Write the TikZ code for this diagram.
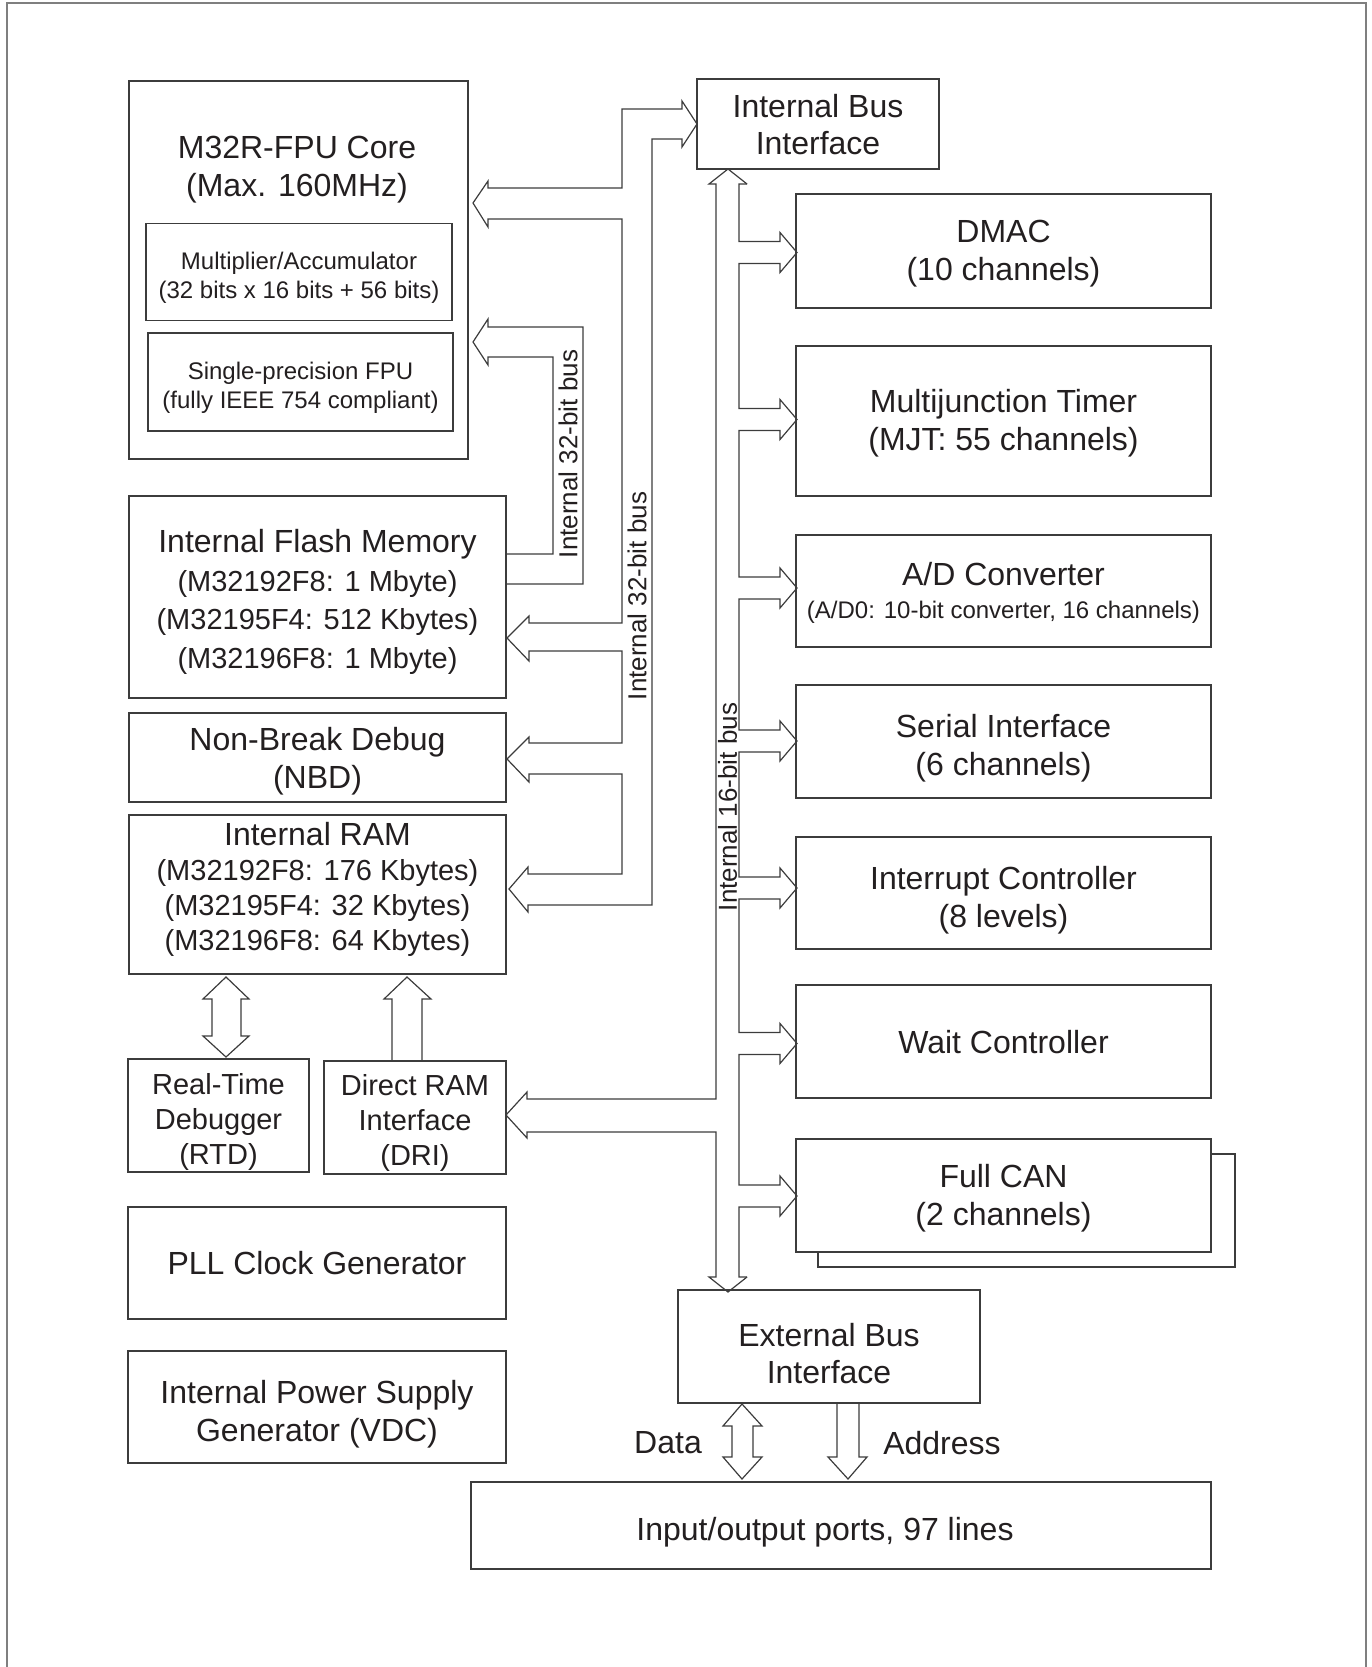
\documentclass[tikz,border=0pt]{standalone}
\usepackage{fontspec}
\setmainfont{Liberation Sans}
\usepackage{tikz}
\usetikzlibrary{positioning}

\definecolor{linec}{HTML}{3C3C3C}
\definecolor{framec}{HTML}{7F7F7F}
\definecolor{textc}{HTML}{231F20}

% invisible strut that pushes the text of a box down a little
\newcommand{\boxtop}[1]{\rule{0pt}{#1}}

\begin{document}
\begin{tikzpicture}[x=1pt, y=-1pt,
    blk/.style={draw=linec, line width=1.4pt, fill=white, rectangle, inner sep=0pt, text depth=0pt,
      align=center, text=textc, font=\fontsize{32}{38}\selectfont},
    small/.style={font=\fontsize{24}{29}\selectfont},
    mid/.style={font=\fontsize{29}{35}\selectfont},
    txt/.style={inner sep=0pt, align=center, text=textc, font=\fontsize{32}{38}\selectfont},
    bus/.style={draw=linec, line width=1.2pt, line join=miter},
    buslabel/.style={rotate=90, inner sep=0pt, text=textc, font=\fontsize{26}{30}\selectfont},
    frame/.style={draw=framec, line width=2.5pt}]
    \useasboundingbox (0,0) rectangle (1372,1667);
    \draw[frame] (7,1667) -- (7,3) -- (1366,3) -- (1366,1667);

    % left column
    \node[blk, minimum width=339pt, minimum height=378pt] (core) at (298.5,270) {};
    \node[txt] (coretitle) at (297,170) {M32R-FPU Core\\(Max. 160MHz)};
    \node[blk, small, minimum width=306pt, minimum height=97pt] (mac) at (299,272) {\boxtop{24pt}Multiplier/Accumulator\\(32 bits x 16 bits + 56 bits)};
    \node[blk, small, minimum width=305pt, minimum height=98pt] (fpu) at (300.5,382) {\boxtop{23.5pt}Single-precision FPU\\(fully IEEE 754 compliant)};
    \node[blk, minimum width=377pt, minimum height=202pt, font=\fontsize{29}{38.5}\selectfont] (flash) at (317.5,597)
      {\boxtop{27pt}{\fontsize{32}{38}\selectfont Internal Flash Memory}\\(M32192F8: 1 Mbyte)\\(M32195F4: 512 Kbytes)\\(M32196F8: 1 Mbyte)};
    \node[blk, minimum width=377pt, minimum height=89pt] (nbd) at (317.5,757.5) {Non-Break Debug\\(NBD)};
    \node[blk, minimum width=377pt, minimum height=159pt, text depth=16pt, mid] (ram) at (317.5,894.5)
      {{\fontsize{32}{35}\selectfont Internal RAM}\\(M32192F8: 176 Kbytes)\\(M32195F4: 32 Kbytes)\\(M32196F8: 64 Kbytes)};
    \node[blk, mid, minimum width=181pt, minimum height=113pt] (rtd) at (218.5,1115.5) {\boxtop{27pt}Real-Time\\Debugger\\(RTD)};
    \node[blk, mid, minimum width=182pt, minimum height=113pt] (dri) at (415,1117.5) {\boxtop{25pt}Direct RAM\\Interface\\(DRI)};
    \node[blk, minimum width=378pt, minimum height=112pt] (pll) at (317,1263) {PLL Clock Generator};
    \node[blk, minimum width=378pt, minimum height=112pt] (vdc) at (317,1407) {\boxtop{31pt}Internal Power Supply\\Generator (VDC)};

    % right column
    \node[blk, minimum width=242pt, minimum height=90pt, font=\fontsize{32}{37}\selectfont] (ibi) at (818,124) {Internal Bus\\Interface};
    \node[blk, minimum width=415pt, minimum height=114pt, text depth=2pt] (dmac) at (1003.5,251) {DMAC\\(10 channels)};
    \node[blk, minimum width=415pt, minimum height=150pt, text depth=2pt] (mjt) at (1003.5,421) {Multijunction Timer\\(MJT: 55 channels)};
    \node[blk, minimum width=415pt, minimum height=112pt, text depth=2pt, font=\fontsize{24}{33}\selectfont] (adc) at (1003.5,591)
      {{\fontsize{32}{33}\selectfont A/D Converter}\\(A/D0: 10-bit converter, 16 channels)};
    \node[blk, minimum width=415pt, minimum height=113pt] (sio) at (1003.5,741.5) {\boxtop{29.5pt}Serial Interface\\(6 channels)};
    \node[blk, minimum width=415pt, minimum height=112pt] (icu) at (1003.5,893) {\boxtop{30.5pt}Interrupt Controller\\(8 levels)};
    \node[blk, minimum width=415pt, minimum height=113pt] (wait) at (1003.5,1041.5) {Wait Controller};
    \draw[draw=linec, line width=1.4pt] (818,1154) rectangle (1235,1267);
    \node[blk, minimum width=415pt, minimum height=113pt, text depth=2pt] (can) at (1003.5,1195.5) {Full CAN\\(2 channels)};
    \node[blk, minimum width=302pt, minimum height=113pt, font=\fontsize{32}{37}\selectfont] (ebi) at (829,1346.5) {\boxtop{36pt}External Bus\\Interface};
    \node[blk, minimum width=740pt, minimum height=87pt] (io) at (841,1525.5) {\boxtop{30pt}Input/output ports, 97 lines\hspace*{32pt}};

    % internal 32-bit bus to core, flash, NBD, RAM
    \draw[bus] (622,188) -- (622,109) -- (682,109) -- (682,101) -- (697,124) -- (682,147) -- (682,139)
      -- (652,139) -- (652,905) -- (528,905) -- (528,912) -- (509,889) -- (528,867) -- (528,874)
      -- (622,874) -- (622,774) -- (529,774) -- (529,782) -- (507,759) -- (529,737) -- (529,743)
      -- (622,743) -- (622,651) -- (529,651) -- (529,661) -- (507,638) -- (529,616) -- (529,623)
      -- (622,623) -- (622,219) -- (488,219) -- (488,227) -- (473,203) -- (488,181) -- (488,188) -- cycle;
    \node[buslabel] (bus32b) at (637,596) {Internal 32-bit bus};

    % flash to core
    \draw[bus] (506,554) -- (553,554) -- (553,357) -- (488,357) -- (488,365) -- (473,342) -- (488,319)
      -- (488,327) -- (583,327) -- (583,584) -- (506,584);
    \node[buslabel] (bus32a) at (568,454) {Internal 32-bit bus};

    % internal 16-bit bus
    \draw[bus] (747,184) -- (739,184)
      \foreach \c in {252.5,419.5,588,741,888,1043.5,1196} {
        -- (739,\c-11) -- (780,\c-11) -- (780,\c-20) -- (797,\c) -- (780,\c+20) -- (780,\c+11) -- (739,\c+11)
      } -- (739,1277) -- (747,1277);
    \draw[bus] (747,184) -- (728,169) -- (709,184) -- (716,184) -- (716,1099) -- (527,1099) -- (527,1092)
      -- (506,1115) -- (527,1138) -- (527,1132) -- (716,1132) -- (716,1277) -- (709,1277) -- (728,1292) -- (747,1277);
    \node[buslabel] (bus16) at (727.5,807) {Internal 16-bit bus};

    % RAM to RTD and DRI
    \draw[bus] (212,999) -- (203,999) -- (226,977) -- (249,999) -- (241,999) -- (241,1036) -- (249,1036)
      -- (226,1057) -- (203,1036) -- (212,1036) -- cycle;
    \draw[bus] (392,1061) -- (392,999) -- (384,999) -- (407,977) -- (431,999) -- (422,999) -- (422,1061);

    % external bus to ports
    \draw[bus] (732,1426) -- (723,1426) -- (742,1404) -- (762,1426) -- (753,1426) -- (753,1457) -- (762,1457)
      -- (742,1479) -- (723,1457) -- (732,1457) -- cycle;
    \draw[bus] (837,1403) -- (837,1457) -- (828,1457) -- (848,1479) -- (867,1457) -- (859,1457) -- (859,1403);
    \node[txt] (data) at (668,1443) {Data};
    \node[txt] (addr) at (942,1443) {Address};
\end{tikzpicture}
\end{document}
